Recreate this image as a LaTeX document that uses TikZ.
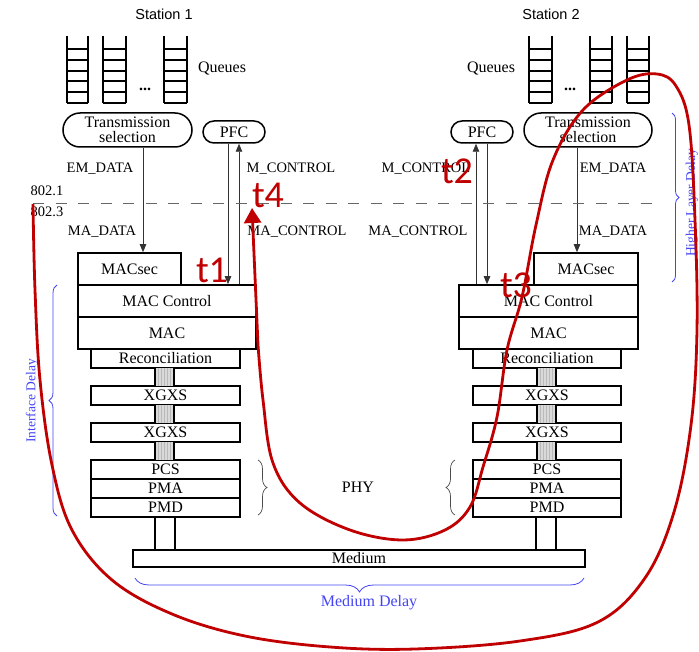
\documentclass[tikz,border=0pt]{standalone}
\usepackage{fontspec}
\setmainfont{Liberation Serif}
\newfontfamily\arialf{Liberation Sans}
\newfontfamily\calf{Carlito}
\usetikzlibrary{decorations.pathreplacing,arrows.meta,calc}
\definecolor{redc}{HTML}{C00000}
\definecolor{bluec}{HTML}{4444F5}
\begin{document}
\begin{tikzpicture}[x=1pt,y=-1pt,
  box/.style={draw, line width=1.6pt, inner sep=0, font=\fontsize{16}{18}\selectfont},
  sbox/.style={box, minimum height=19},
  rbox/.style={draw, line width=1.5pt, inner sep=0, align=center, font=\fontsize{16}{15}\selectfont},
  lbl/.style={inner sep=0, font=\fontsize{14.5}{16}\selectfont},
  qlbl/.style={inner sep=0, font=\fontsize{16}{18}\selectfont},
  conn/.style={line width=0.8pt, draw=black!80},
  arr/.style={-{Triangle[length=8pt,width=6.5pt]}},
  ladder/.style={line width=1.6pt},
  bus/.style={fill=gray!30},
  bbrace/.style={decorate, decoration={brace, amplitude=#1}, draw=bluec, line width=0.8pt},
  kbrace/.style={decorate, decoration={brace, amplitude=#1}, draw=black!70, line width=0.7pt},
  btxt/.style={inner sep=0, text=bluec},
  redline/.style={draw=redc, line width=2.8pt},
  tlbl/.style={text=redc, font=\calf\fontsize{38}{40}\selectfont, inner sep=0}]
\useasboundingbox (0,0) rectangle (699,652);

% ---------- Station titles ----------
\node[inner sep=0, font=\arialf\fontsize{14.5}{16}\selectfont] (st1) at (164,14) {Station 1};
\node[inner sep=0, font=\arialf\fontsize{14.5}{16}\selectfont] (st2) at (551,14) {Station 2};

% ---------- Queues (ladders) ----------
\foreach \x/\w in {67/21,103/23,164/23,529/23,590/22,627/22} {
  \draw[ladder] (\x,36) -- (\x,103) (\x+\w,36) -- (\x+\w,103);
  \foreach \y in {49,60,71,81,92,103} { \draw[ladder] (\x,\y) -- (\x+\w,\y); }
}
\node[inner sep=0, font=\bfseries\fontsize{16}{18}\selectfont] (dots1) at (145,89) {...};
\node[inner sep=0, font=\bfseries\fontsize{16}{18}\selectfont] (dots2) at (570,89) {...};
\node[qlbl] (q1) at (222,69) {Queues};
\node[qlbl] (q2) at (491,69) {Queues};

% ---------- Upper blocks ----------
\node[rbox, minimum width=129, minimum height=34, rounded corners=17] (ts1) at (127.5,130) {Transmission\\selection};
\node[rbox, minimum width=62, minimum height=22, rounded corners=11] (pfc1) at (234,132) {PFC};
\node[rbox, minimum width=62, minimum height=22, rounded corners=11] (pfc2) at (482,132) {PFC};
\node[rbox, minimum width=128, minimum height=34, rounded corners=17] (ts2) at (588,130) {Transmission\\selection};

% ---------- Station 1 stack ----------
\node[box, minimum width=103, minimum height=32] (macsec1) at (129.5,269) {MACsec};
\node[box, minimum width=178, minimum height=32] (macctl1) at (167,301) {MAC Control};
\node[box, minimum width=178, minimum height=32] (mac1) at (167,333) {MAC};
\node[sbox, minimum width=149] (rec1) at (165.5,358.5) {Reconciliation};
\node[sbox, minimum width=149] (xa1) at (165.5,395.5) {XGXS};
\node[sbox, minimum width=149] (xb1) at (165.5,432.5) {XGXS};
\node[sbox, minimum width=149] (pcs1) at (165.5,469.5) {PCS};
\node[sbox, minimum width=149] (pma1) at (165.5,488.5) {PMA};
\node[sbox, minimum width=149] (pmd1) at (165.5,507.5) {PMD};

% ---------- Station 2 stack ----------
\node[box, minimum width=104, minimum height=32] (macsec2) at (586,269) {MACsec};
\node[box, minimum width=179, minimum height=32] (macctl2) at (548.5,301) {MAC Control};
\node[box, minimum width=179, minimum height=32] (mac2) at (548.5,333) {MAC};
\node[sbox, minimum width=148] (rec2) at (547,358.5) {Reconciliation};
\node[sbox, minimum width=148] (xa2) at (547,395.5) {XGXS};
\node[sbox, minimum width=148] (xb2) at (547,432.5) {XGXS};
\node[sbox, minimum width=148] (pcs2) at (547,469.5) {PCS};
\node[sbox, minimum width=148] (pma2) at (547,488.5) {PMA};
\node[sbox, minimum width=148] (pmd2) at (547,507.5) {PMD};

% ---------- Medium ----------
\node[box, minimum width=452, minimum height=17] (med) at (359,558.5) {Medium};

% ---------- Shaded buses ----------
\foreach \xl in {155,537} {
  \foreach \ya/\yb in {368/386,405/423,442/460} {
    \fill[bus] (\xl,\ya) rectangle (\xl+19,\yb);
    \foreach \s in {3,6,...,18} { \draw[gray!55, line width=0.4pt] (\xl+\s,\ya) -- (\xl+\s,\yb); }
    \draw[line width=1.3pt] (\xl,\ya) -- (\xl,\yb) (\xl+19,\ya) -- (\xl+19,\yb);
  }
}

% ---------- PMD to medium ----------
\draw[line width=1.5pt] ([xshift=-10.5pt]pmd1.south) -- ([xshift=-204pt]med.north);
\draw[line width=1.5pt] ([xshift=9.5pt]pmd1.south) -- ([xshift=-184pt]med.north);
\draw[line width=1.5pt] ([xshift=-11pt]pmd2.south) -- ([xshift=177pt]med.north);
\draw[line width=1.5pt] ([xshift=9pt]pmd2.south) -- ([xshift=197pt]med.north);

% ---------- Service arrows ----------
\draw[conn,arr] ([xshift=15.5pt]ts1.south) -- ([xshift=13.5pt]macsec1.north);
\draw[conn,arr] ([xshift=-6pt]pfc1.south) -- ([xshift=61pt]macctl1.north);
\draw[conn,arr] ([xshift=72pt]macctl1.north) -- ([xshift=5pt]pfc1.south);
\draw[conn,arr] ([xshift=-11pt]ts2.south) -- ([xshift=-9pt]macsec2.north);
\draw[conn,arr] ([xshift=-72.5pt]macctl2.north) -- ([xshift=-6pt]pfc2.south);
\draw[conn,arr] ([xshift=5pt]pfc2.south) -- ([xshift=-61.5pt]macctl2.north);

% ---------- Dashed layer boundary ----------
\coordinate (dl) at (33,203);
\coordinate (dr) at (655,203);
\draw[draw=black!60, line width=0.9pt, dash pattern=on 11pt off 11.5pt] (dl) -- (dr);
\node[lbl] (l8021) at (47,191) {802.1};
\node[lbl] (l8023) at (47,212) {802.3};

% ---------- Service labels ----------
\node[lbl] (em1) at (100,169) {EM\_DATA};
\node[lbl] (mc1) at (291,169) {M\_CONTROL};
\node[lbl] (ma1) at (102,232) {MA\_DATA};
\node[lbl] (mac1l) at (297,232) {MA\_CONTROL};
\node[lbl] (mc2) at (426,169) {M\_CONTROL};
\node[lbl] (em2) at (613,169) {EM\_DATA};
\node[lbl] (mac2l) at (418,232) {MA\_CONTROL};
\node[lbl] (ma2) at (613,232) {MA\_DATA};

% ---------- PHY braces ----------
\draw[kbrace=9pt] (258,460) -- (258,515);
\draw[kbrace=9pt] (455,515) -- (455,460);
\node[qlbl] (phy) at (358,487) {PHY};

% ---------- Delay braces ----------
\draw[bbrace=8pt] (57,516) -- (57,285);
\node[btxt, rotate=90, font=\fontsize{13.5}{15}\selectfont] (ifd) at (32,401) {Interface Delay};
\draw[bbrace=7pt] (672,113) -- (672,282);
\node[btxt, rotate=90, font=\fontsize{13.5}{15}\selectfont] (hld) at (692,203) {Higher Layer Delay};
\draw[bbrace=14pt] (584,578) -- (135,578);
\node[btxt, font=\fontsize{16}{18}\selectfont] (mdd) at (369,603) {Medium Delay};

% ---------- Red timing path ----------
\coordinate (rend) at (252,208);
\draw[redline, -{Triangle[length=15pt,width=17pt]}] plot[smooth, tension=0.6] coordinates {
 (33,204) (35,290) (40,380) (52,465) (72,530) (112,580) (172,614) (245,636) (330,647) (415,649)
 (520,641) (598,622) (645,578) (674,512) (691,425) (697,330) (695,220) (689,125) (676,86)
 (657,74) (627,80) (583,110) (553,160) (536,225) (522,297) (507,350) (497,417) (483,467)
 (470,507) (445,530) (403,540) (350,530) (300,503) (273,463) (263,400) (258,345)} -- (rend);

\node[tlbl] (t1) at (212,270) {t1};
\node[tlbl] (t2) at (457,171) {t2};
\node[tlbl] (t3) at (516,285) {t3};
\node[tlbl] (t4) at (268,195) {t4};
\end{tikzpicture}
\end{document}
